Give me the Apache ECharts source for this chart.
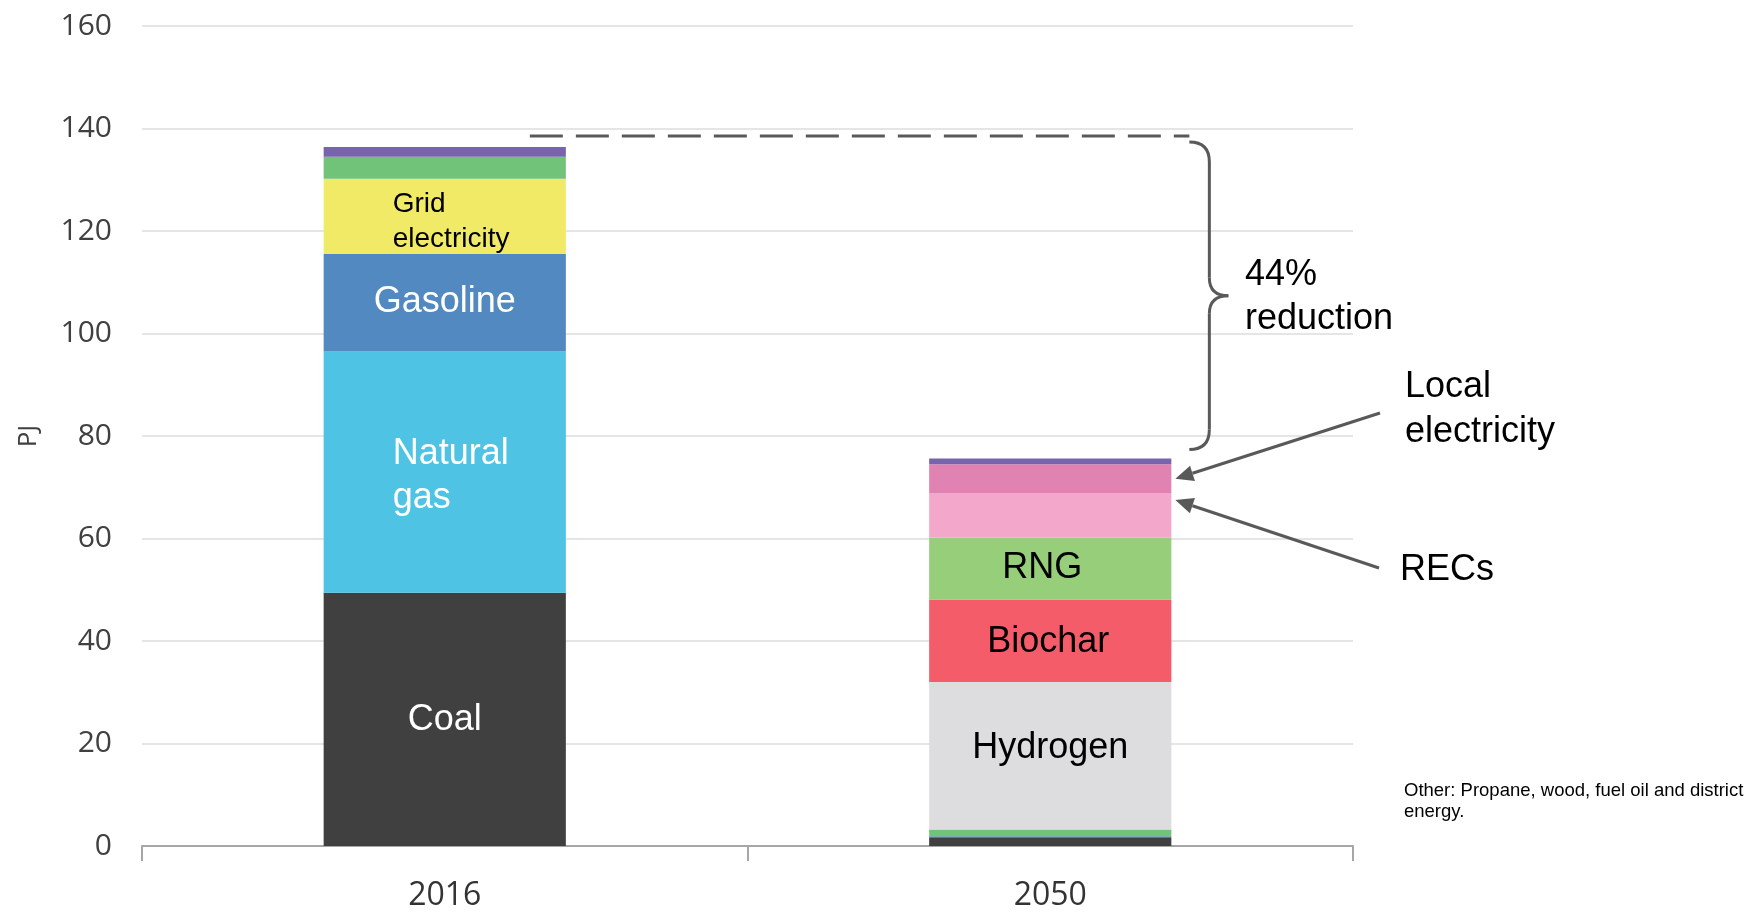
<!DOCTYPE html>
<html>
<head>
<meta charset="utf-8">
<title>PJ 2016 vs 2050</title>
<script src="https://cdn.jsdelivr.net/npm/echarts@6/dist/echarts.min.js"></script>
<style>
  html, body { margin: 0; padding: 0; background: #fff; }
  #chart { width: 1752px; height: 912px; }
</style>
</head>
<body>
<div id="chart"></div>
<script>
  // categories and stacked values (PJ), bottom to top
  var categories = ['2016', '2050'];
  var coal = [49.4, 1.7];
  var naturalGas = [47.1, 0];
  var gasoline = [19.0, 0.2];
  var gridElectricity = [14.7, 0];
  var otherFuels = [4.3, 1.3];
  var hydrogen = [0, 28.8];
  var biochar = [0, 16.1];
  var rng = [0, 12.1];
  var recs = [0, 8.6];
  var localElectricity = [0, 5.7];
  var topLayer = [1.9, 1.1];

  var yMin = 0, yMax = 160, yStep = 20;

  var reductionText = '44%\nreduction';
  var localText = 'Local\nelectricity';
  var recsText = 'RECs';
  var noteText = 'Other: Propane, wood, fuel oil and district\nenergy.';

  var myChart = echarts.init(document.getElementById('chart'));

  function bar(name, data, color, label) {
    var s = {
      name: name,
      type: 'bar',
      stack: 'total',
      data: data,
      barWidth: '40%',
      itemStyle: { color: color },
      emphasis: { disabled: true },
      label: { show: false }
    };
    if (label) {
      s.label = {
        show: true,
        position: 'inside',
        fontFamily: 'Liberation Sans, Arial, sans-serif',
        fontSize: label.size || 36,
        lineHeight: label.lh || 44,
        color: label.color,
        align: label.align || 'center',
        offset: label.offset || [0, 0],
        formatter: function (p) { return p.value >= 5 ? label.text : ''; }
      };
    }
    return s;
  }

  var option = {
    backgroundColor: '#fff',
    animation: false,
    grid: { left: 142, right: 399, top: 26, bottom: 64, containLabel: false },
    xAxis: {
      type: 'category',
      data: categories,
      axisLine: { lineStyle: { color: '#a6a6a6', width: 2 } },
      axisTick: { show: true, length: 15, lineStyle: { color: '#a6a6a6', width: 2 } },
      axisLabel: { fontFamily: 'Open Sans', fontSize: 32, color: '#333', margin: 34 }
    },
    yAxis: {
      type: 'value',
      min: yMin,
      max: yMax,
      interval: yStep,
      name: 'PJ',
      nameLocation: 'middle',
      nameGap: 100,
      nameTextStyle: { fontFamily: 'Open Sans', fontSize: 26, color: '#404040' },
      axisLine: { show: false },
      axisTick: { show: false },
      axisLabel: { fontFamily: 'Open Sans', fontSize: 30, color: '#404040', margin: 30 },
      splitLine: { lineStyle: { color: '#dcdcdc', width: 1.5 } }
    },
    series: [
      bar('Coal', coal, '#404040', { text: 'Coal', color: '#fff', offset: [0, 1] }),
      bar('Natural gas', naturalGas, '#4ec3e3', { text: 'Natural\ngas', color: '#fff', align: 'left', offset: [-52, 4] }),
      bar('Gasoline', gasoline, '#5289c0', { text: 'Gasoline', color: '#fff', offset: [0, -1] }),
      bar('Grid electricity', gridElectricity, '#f0ea66', { text: 'Grid\nelectricity', color: '#000', size: 28, lh: 35, align: 'left', offset: [-52, 5] }),
      bar('Other', otherFuels, '#72c37a'),
      bar('Hydrogen', hydrogen, '#dddde0', { text: 'Hydrogen', color: '#000', offset: [0, -8] }),
      bar('Biochar', biochar, '#f45c6a', { text: 'Biochar', color: '#000', offset: [-2, 1] }),
      bar('RNG', rng, '#96ce7a', { text: 'RNG', color: '#000', offset: [-8, 0] }),
      bar('RECs', recs, '#f3a8cb'),
      bar('Local electricity', localElectricity, '#e083b3'),
      bar('Other fuels', topLayer, '#7764ad')
    ]
  };
  myChart.setOption(option, true);

  // annotations placed from the axis scales
  function total(i) {
    var arrs = [coal, naturalGas, gasoline, gridElectricity, otherFuels, hydrogen, biochar, rng, recs, localElectricity, topLayer];
    var s = 0;
    arrs.forEach(function (a) { s += a[i]; });
    return s;
  }
  function yPx(v) { return myChart.convertToPixel({ yAxisIndex: 0 }, v); }
  function xPx(c) { return myChart.convertToPixel({ xAxisIndex: 0 }, c); }

  var bandW = (xPx(categories[1]) - xPx(categories[0]));
  var halfBar = bandW * 0.2;
  var right2016 = xPx(categories[0]) + halfBar;
  var right2050 = xPx(categories[1]) + halfBar;
  var top2016 = yPx(total(0));
  var top2050 = yPx(total(1));

  var dashY = top2016 - 11;
  var bx = right2050 + 18, bTop = top2016 - 5, bBot = top2050 - 9, bMid = (bTop + bBot) / 2;
  var braceX = bx + 20, tipX = bx + 39;
  var stroke = { stroke: '#595959', lineWidth: 3, fill: null };
  function curve(x1, y1, cx, cy, x2, y2) {
    return { type: 'bezierCurve', shape: { x1: x1, y1: y1, cpx1: cx, cpy1: cy, x2: x2, y2: y2 }, style: stroke };
  }
  function seg(x1, y1, x2, y2) {
    return { type: 'line', shape: { x1: x1, y1: y1, x2: x2, y2: y2 }, style: stroke };
  }
  var brace = [
    curve(bx, bTop, braceX, bTop, braceX, bTop + 20),
    seg(braceX, bTop + 20, braceX, bMid - 18),
    curve(braceX, bMid - 18, braceX, bMid, tipX, bMid),
    curve(tipX, bMid, braceX, bMid, braceX, bMid + 18),
    seg(braceX, bMid + 18, braceX, bBot - 20),
    curve(braceX, bBot - 20, braceX, bBot, bx, bBot)
  ];

  var base2050 = coal[1] + naturalGas[1] + gasoline[1] + gridElectricity[1] + otherFuels[1] + hydrogen[1] + biochar[1] + rng[1];
  var localTipY = yPx(base2050 + recs[1] + localElectricity[1] / 2);
  var recsTipY = yPx(base2050 + recs[1] * 0.85);

  function arrow(x1, y1, x2, y2) {
    var dx = x2 - x1, dy = y2 - y1, len = Math.sqrt(dx * dx + dy * dy);
    var ux = dx / len, uy = dy / len, hl = 18, hw = 8;
    var bxp = x2 - ux * hl, byp = y2 - uy * hl;
    return [
      { type: 'line', shape: { x1: x1, y1: y1, x2: bxp, y2: byp }, style: { stroke: '#595959', lineWidth: 3 } },
      { type: 'polygon', shape: { points: [[x2, y2], [bxp - uy * hw, byp + ux * hw], [bxp + uy * hw, byp - ux * hw]] }, style: { fill: '#595959' } }
    ];
  }

  function label(x, y, text, size, lh) {
    return {
      type: 'text', x: x, y: y,
      style: { text: text, verticalAlign: 'top', fontFamily: 'Liberation Sans, Arial, sans-serif', fontSize: size, lineHeight: lh, fill: '#000' }
    };
  }

  var elements = [
    { type: 'line', shape: { x1: right2016 - 36, y1: dashY, x2: bx, y2: dashY }, style: { stroke: '#595959', lineWidth: 3, lineDash: [33, 13] } },
    label(1245, 253, reductionText, 36, 44),
    label(1405, 365, localText, 36, 45),
    label(1400, 548, recsText, 36, 44),
    label(1404, 780, noteText, 18.5, 21)
  ].concat(brace, arrow(1380, 413, right2050 + 4, localTipY), arrow(1379, 568, right2050 + 4, recsTipY));

  myChart.setOption({ graphic: { elements: elements } });
</script>
</body>
</html>
